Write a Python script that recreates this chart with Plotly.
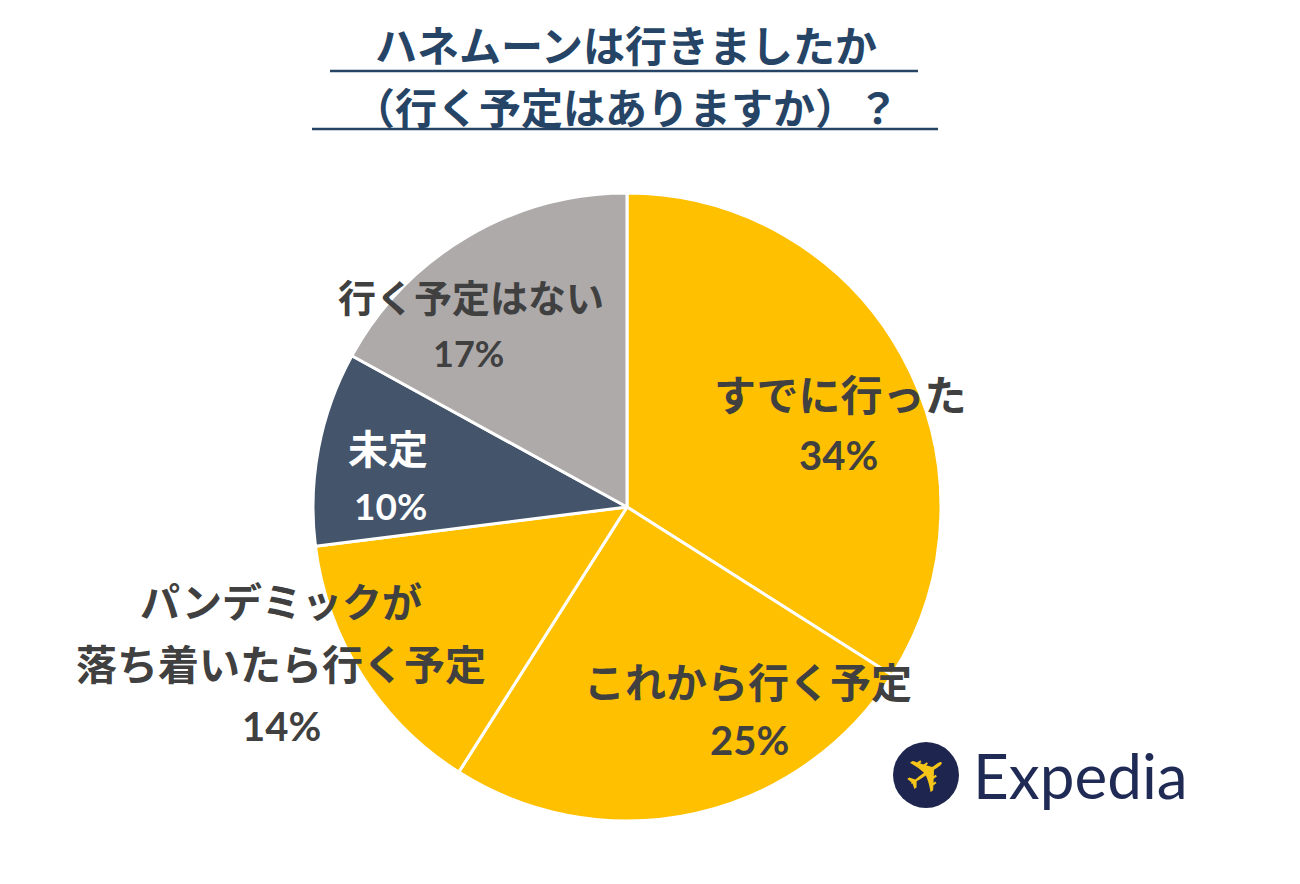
import plotly.graph_objects as go

labels = ["すでに行った", "これから行く予定", "パンデミックが落ち着いたら行く予定", "未定", "行く予定はない"]
values = [34, 25, 14, 10, 17]
colors = ["#FFC000", "#FFC000", "#FFC000", "#44546A", "#AEAAAA"]
title_lines = ["ハネムーンは行きましたか", "（行く予定はありますか）？"]

W, H = 1300, 884
cx, cy, r = 627, 507, 314

fig = go.Figure(go.Pie(
    labels=labels, values=values, sort=False, direction="clockwise", rotation=0,
    marker=dict(colors=colors, line=dict(color="white", width=3)),
    textinfo="none", hoverinfo="label+percent", showlegend=False,
    domain=dict(x=[(cx - r) / W, (cx + r) / W], y=[(H - cy - r) / H, (H - cy + r) / H]),
))

def px(x, y):
    return x / W, 1 - y / H

ann = []
def add(x, y, text, size, color="#404040", bold=True, font="Noto Sans CJK JP"):
    X, Y = px(x, y)
    t = f"<b>{text}</b>" if bold else text
    ann.append(dict(x=X, y=Y, xref="paper", yref="paper", text=t, showarrow=False,
                    font=dict(family=font, size=size, color=color), xanchor="center", yanchor="middle"))

# title
add(626, 43, title_lines[0], 42, "#264466")
add(626, 105, title_lines[1], 42, "#264466")

# slice labels
pct = [f"{v}%" for v in values]
add(840, 392, labels[0], 42)
add(838, 455, pct[0], 40, font="Lato")
add(748, 680, labels[1], 41)
add(750, 740, pct[1], 40, font="Lato")
add(281, 600, "パンデミックが", 40)
add(281, 662, "落ち着いたら行く予定", 41)
add(281, 726, pct[2], 40, font="Lato")
add(388, 447, labels[3], 40, "white")
add(390, 505, pct[3], 37, "white", font="Lato")
add(471, 296, labels[4], 38)
add(468, 353, pct[4], 36, font="Lato")

# Expedia logo
add(1080, 775, "Expedia", 62, "#1F2A55", bold=False, font="Lato")
lx, ly = px(927, 774)
ann.append(dict(x=lx, y=ly, xref="paper", yref="paper", text="✈", showarrow=False, textangle=-35,
                font=dict(family="DejaVu Sans", size=52, color="#F5C518"), xanchor="center", yanchor="middle"))

shapes = [
    dict(type="line", xref="paper", yref="paper", x0=330 / W, x1=918 / W, y0=1 - 71 / H, y1=1 - 71 / H,
         line=dict(color="#264466", width=2.5)),
    dict(type="line", xref="paper", yref="paper", x0=312 / W, x1=938 / W, y0=1 - 129 / H, y1=1 - 129 / H,
         line=dict(color="#264466", width=2.5)),
    dict(type="circle", xref="paper", yref="paper", x0=893 / W, x1=959 / W, y0=1 - 808 / H, y1=1 - 742 / H,
         fillcolor="#1E2650", line=dict(width=0), layer="below"),
]

fig.update_layout(width=W, height=H, margin=dict(l=0, r=0, t=0, b=0),
                  paper_bgcolor="white", plot_bgcolor="white",
                  annotations=ann, shapes=shapes)
fig.write_html("out.html", config={"displayModeBar": False})

with open("out.html", encoding="utf-8") as f:
    html = f.read()
html = html.replace("<head>", "<head><style>html,body{margin:0;padding:0;overflow:hidden}</style>", 1)
with open("out.html", "w", encoding="utf-8") as f:
    f.write(html)
